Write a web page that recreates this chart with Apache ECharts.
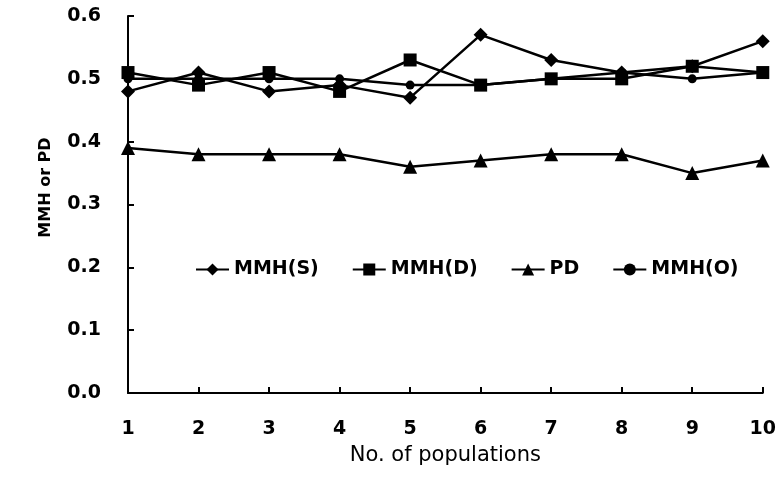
<!DOCTYPE html>
<html>
<head>
<meta charset="utf-8">
<script src="https://cdn.jsdelivr.net/npm/echarts@6/dist/echarts.min.js"></script>
<style>
  html, body { margin: 0; padding: 0; background: #fff; }
  #chart { width: 779px; height: 479px; }
</style>
</head>
<body>
<div id="chart"></div>
<script>
// 种群编号
var populations = [1, 2, 3, 4, 5, 6, 7, 8, 9, 10];
// 各指标
var mmhS = [0.48, 0.51, 0.48, 0.49, 0.47, 0.57, 0.53, 0.51, 0.52, 0.56];
var mmhD = [0.51, 0.49, 0.51, 0.48, 0.53, 0.49, 0.50, 0.50, 0.52, 0.51];
var pd   = [0.39, 0.38, 0.38, 0.38, 0.36, 0.37, 0.38, 0.38, 0.35, 0.37];
var mmhO = [0.50, 0.50, 0.50, 0.50, 0.49, 0.49, 0.50, 0.51, 0.50, 0.51];

function pairs(arr) {
  return populations.map(function (p, i) { return [p, arr[i]]; });
}

var chart = echarts.init(document.getElementById('chart'));

var lineStyle = { color: '#000', width: 2.5 };
var itemStyle = { color: '#000' };

chart.setOption({
  animation: false,
  backgroundColor: '#fff',
  textStyle: { fontFamily: 'DejaVu Sans', color: '#000' },
  legend: {
    left: 190,
    top: 255,
    itemWidth: 33,
    itemHeight: 15,
    itemGap: 33,
    textStyle: { fontFamily: 'DejaVu Sans', fontWeight: 'bold', fontSize: 19, color: '#000' },
    data: ['MMH(S)', 'MMH(D)', 'PD', 'MMH(O)']
  },
  grid: { left: 128, right: 11, top: 16, bottom: 86 },
  xAxis: {
    type: 'value',
    min: 1,
    max: 10,
    interval: 1,
    name: 'No. of populations',
    nameLocation: 'middle',
    nameGap: 52,
    nameTextStyle: { fontFamily: 'DejaVu Sans', fontSize: 21, color: '#000' },
    axisLine: { lineStyle: { color: '#000', width: 2 } },
    axisTick: { inside: true, length: 6, lineStyle: { color: '#000', width: 2 } },
    axisLabel: { margin: 27, fontFamily: 'DejaVu Sans', fontWeight: 'bold', fontSize: 19, color: '#000' },
    splitLine: { show: false }
  },
  yAxis: {
    type: 'value',
    min: 0,
    max: 0.6,
    interval: 0.1,
    name: 'MMH or PD',
    nameLocation: 'middle',
    nameGap: 74,
    nameTextStyle: { fontFamily: 'DejaVu Sans', fontWeight: 'bold', fontSize: 16, color: '#000', padding: [0, 0, 0, 34] },
    axisLine: { lineStyle: { color: '#000', width: 2 } },
    axisTick: { inside: true, length: 6, lineStyle: { color: '#000', width: 2 } },
    axisLabel: {
      margin: 27,
      fontFamily: 'DejaVu Sans', fontWeight: 'bold', fontSize: 19, color: '#000',
      formatter: function (v) { return v.toFixed(1); }
    },
    splitLine: { show: false }
  },
  series: [
    { name: 'MMH(O)', type: 'line', data: pairs(mmhO), symbol: 'circle', symbolSize: 9, lineStyle: lineStyle, itemStyle: itemStyle },
    { name: 'PD', type: 'line', data: pairs(pd), symbol: 'triangle', symbolSize: 14, lineStyle: lineStyle, itemStyle: itemStyle },
    { name: 'MMH(D)', type: 'line', data: pairs(mmhD), symbol: 'rect', symbolSize: 13, lineStyle: lineStyle, itemStyle: itemStyle },
    { name: 'MMH(S)', type: 'line', data: pairs(mmhS), symbol: 'diamond', symbolSize: 14, lineStyle: lineStyle, itemStyle: itemStyle }
  ]
});
</script>
</body>
</html>
